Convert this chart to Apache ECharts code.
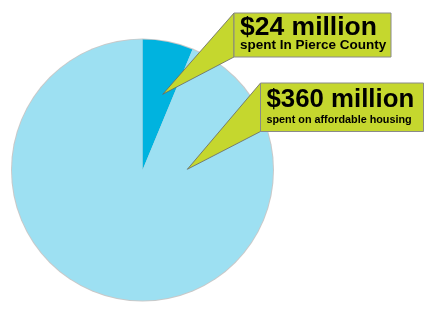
<!DOCTYPE html>
<html>
<head>
<meta charset="utf-8">
<script src="https://cdn.jsdelivr.net/npm/echarts@6/dist/echarts.min.js"></script>
<style>
html,body{margin:0;padding:0;background:#fff;}
#chart{width:430px;height:310px;}
</style>
</head>
<body>
<div id="chart"></div>
<script>
var categories = ['spent in Pierce County', 'rest of affordable housing spending'];
var values = [24, 360];
var headlines = ['$24 million', '$360 million'];
var sublines = ['spent In Pierce County', 'spent on affordable housing'];

var FONT = '"Liberation Sans", Arial, sans-serif';
var chart = echarts.init(document.getElementById('chart'), null, {renderer: 'canvas'});

function callout(apex, box, head, sub, headSize, subSize, headY, subY) {
  return [
    {
      type: 'polygon', silent: true, z: 10,
      shape: {points: [apex, [box.x, box.y], [box.x, box.y + box.h]]},
      style: {fill: '#c5d72e', stroke: '#666', lineWidth: 0.8}
    },
    {
      type: 'rect', silent: true, z: 11,
      shape: {x: box.x, y: box.y, width: box.w, height: box.h},
      style: {fill: '#c5d72e', stroke: '#8a8a8a', lineWidth: 1}
    },
    {
      type: 'text', silent: true, z: 12, x: box.x + 6, y: headY,
      style: {text: head, font: 'bold ' + headSize + 'px ' + FONT, fill: '#000', verticalAlign: 'middle', align: 'left'}
    },
    {
      type: 'text', silent: true, z: 12, x: box.x + 6, y: subY,
      style: {text: sub, font: 'bold ' + subSize + 'px ' + FONT, fill: '#000', verticalAlign: 'middle', align: 'left'}
    }
  ];
}

var graphics = [].concat(
  callout([162.7, 94.3], {x: 234, y: 13, w: 157, h: 44}, headlines[0], sublines[0], 26.5, 13.5, 27.3, 45.5),
  callout([187.3, 169.3], {x: 260.5, y: 83, w: 163, h: 48.5}, headlines[1], sublines[1], 25.8, 10.8, 100, 119.6)
);

chart.setOption({
  animation: false,
  backgroundColor: '#fff',
  series: [
    {
      type: 'pie', silent: true, center: [142.5, 170], radius: 131.5,
      label: {show: false}, labelLine: {show: false},
      data: [{value: 1, itemStyle: {color: '#c9c9c9'}}],
      z: 1
    },
    {
      type: 'pie', silent: true, center: [142.5, 170], radius: 130.5,
      startAngle: 90, clockwise: true,
      label: {show: false}, labelLine: {show: false},
      itemStyle: {borderWidth: 0},
      data: categories.map(function (c, i) {
        return {name: c, value: values[i], itemStyle: {color: i === 0 ? '#00b3df' : '#9de0f2'}};
      }),
      z: 2
    }
  ],
  graphic: graphics
});
</script>
</body>
</html>
